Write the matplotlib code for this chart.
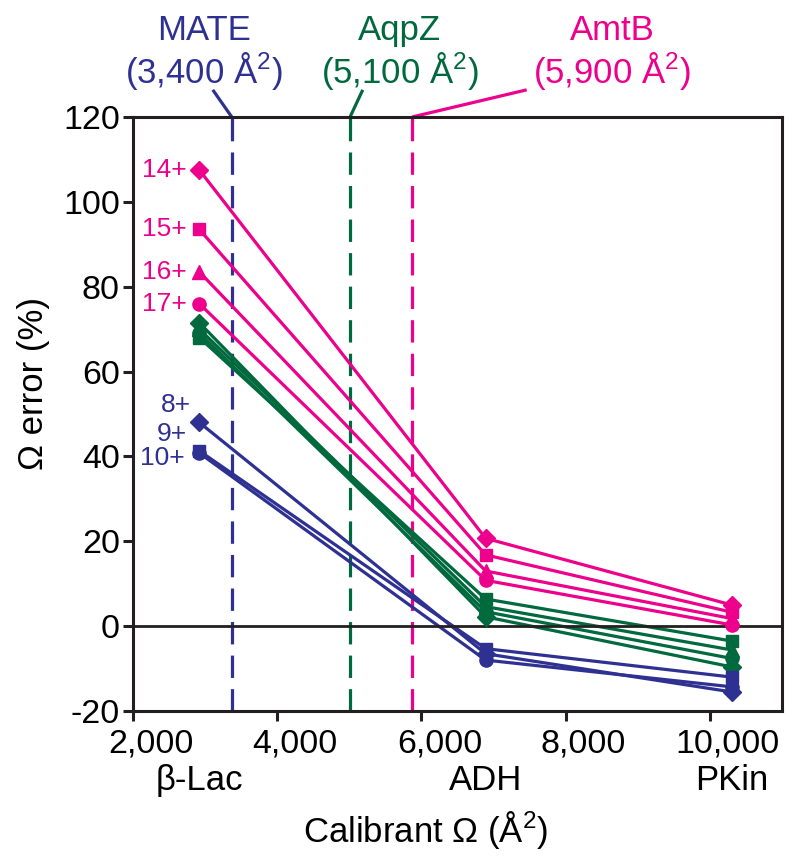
import matplotlib
matplotlib.use("Agg")
import matplotlib.pyplot as plt
import matplotlib.transforms as mtransforms

plt.rcParams['font.family'] = ['Liberation Sans', 'DejaVu Sans']
plt.rcParams['mathtext.fontset'] = 'custom'
plt.rcParams['mathtext.rm'] = 'Liberation Sans'
plt.rcParams['mathtext.it'] = 'Liberation Sans:italic'
plt.rcParams['axes.unicode_minus'] = False

# calibrants on the x axis
calibrants = ["β-Lac", "ADH", "PKin"]
calibrant_ccs = [2920, 6890, 10300]

# MATE (blue)
mate_labels = ["8+", "9+", "10+"]
mate_markers = ["D", "o", "s"]
mate_err = [[48.0, -6.5, -15.5],
            [40.8, -8.0, -14.3],
            [41.3, -5.3, -12.0]]

# AqpZ (green)
aqpz_markers = ["D", "^", "o", "s"]
aqpz_err = [[71.5, 2.2, -9.6],
            [70.0, 4.6, -5.6],
            [69.0, 3.4, -7.6],
            [68.0, 6.4, -3.5]]

# AmtB (pink)
amtb_labels = ["14+", "15+", "16+", "17+"]
amtb_markers = ["D", "s", "^", "o"]
amtb_err = [[107.5, 20.7, 5.0],
            [93.5, 16.8, 3.3],
            [83.5, 13.0, 1.8],
            [76.0, 10.8, 0.3]]

# membrane protein CCS (dashed lines)
proteins = ["MATE", "AqpZ", "AmtB"]
protein_ccs_text = ["3,400", "5,100", "5,900"]
protein_ccs = [3370, 5010, 5870]

blue = "#2E3192"
green = "#00693E"
pink = "#EC008C"
colors = [blue, green, pink]

fig = plt.figure(figsize=(8, 8.63), dpi=100)
ax = fig.add_axes([133 / 800, 1 - 711 / 863, (782 - 133) / 800, (711 - 117) / 863])

ax.set_xlim(2000, 11000)
ax.set_ylim(-20, 120)

msizes = {"D": 9.5, "s": 9, "o": 9.5, "^": 10}


def series(err, markers, color):
    for ys, m in zip(err, markers):
        ax.plot(calibrant_ccs, ys, color=color, lw=2.3, zorder=2,
                solid_capstyle="butt")
        ax.plot(calibrant_ccs, ys, color=color, ls="none", marker=m,
                ms=msizes[m], mec=color, mfc=color, zorder=4)


series(aqpz_err, aqpz_markers, green)
series(mate_err, mate_markers, blue)
series(amtb_err, amtb_markers, pink)

# zero line
ax.axhline(0, color="#231F20", lw=2.0, zorder=3)

# dashed protein lines + labels above the plot
label_x = [2983, 5699, 8640]
joint_x = [3106, 5186, 7459]
for name, txt, ccs, c, lx, jx in zip(proteins, protein_ccs_text, protein_ccs,
                                     colors, label_x, joint_x):
    ax.plot([ccs, ccs], [-20, 120], color=c, lw=2.3, ls=(0, (7, 3.5)),
            zorder=1)
    ax.plot([ccs, jx], [120, 126.4], color=c, lw=2.3, clip_on=False,
            solid_capstyle="butt")
    ax.text(lx, 1 + 77 / 594, name, color=c, fontsize=25, ha="center",
            va="baseline", transform=ax.get_xaxis_transform())
    ax.text(lx, 1 + 34 / 594, "(" + txt + r" Å$^{2}$)", color=c, fontsize=25,
            ha="center", va="baseline", transform=ax.get_xaxis_transform())

# charge state labels
amtb_offsets = [(-13, 0), (-13, 0), (-13, 0), (-13, 0)]
for lab, ys, off in zip(amtb_labels, amtb_err, amtb_offsets):
    ax.annotate(lab, (calibrant_ccs[0], ys[0]), xytext=off,
                textcoords="offset pixels", ha="right", va="center",
                color=pink, fontsize=19)
mate_offsets = [(-8, 17), (-12, 19), (-15, -7)]
for lab, ys, off in zip(mate_labels, mate_err, mate_offsets):
    ax.annotate(lab, (calibrant_ccs[0], ys[0]), xytext=off,
                textcoords="offset pixels", ha="right", va="center",
                color=blue, fontsize=19)

# axes styling
for s in ax.spines.values():
    s.set_linewidth(2.2)
    s.set_color("#231F20")
ax.set_xticks([2000, 4000, 6000, 8000, 10000])
ax.set_xticklabels(["2,000", "4,000", "6,000", "8,000", "10,000"])
ax.set_yticks(range(-20, 121, 20))
ax.tick_params(direction="out", length=7.5, width=2.2, labelsize=24.5,
               color="#231F20")
ax.tick_params(axis="x", pad=5)
ax.tick_params(axis="y", pad=2)

shift = mtransforms.ScaledTranslation(0.18, 0, fig.dpi_scale_trans)
for lab in ax.get_xticklabels():
    lab.set_transform(lab.get_transform() + shift)

# calibrant names under the tick labels
for name, x in zip(calibrants, calibrant_ccs):
    ax.annotate(name, (x, 0), xycoords=("data", "axes fraction"),
                xytext=(0, -69), textcoords="offset pixels",
                ha="center", va="center", fontsize=25)

fig.text(426 / 800, 1 - 830 / 863, r"Calibrant Ω (Å$^{2}$)", fontsize=25,
         ha="center", va="center")
fig.text(33 / 800, 1 - 383 / 863, "Ω error (%)", fontsize=25,
         ha="center", va="center", rotation=90)

fig.savefig("out.png", dpi=100)
